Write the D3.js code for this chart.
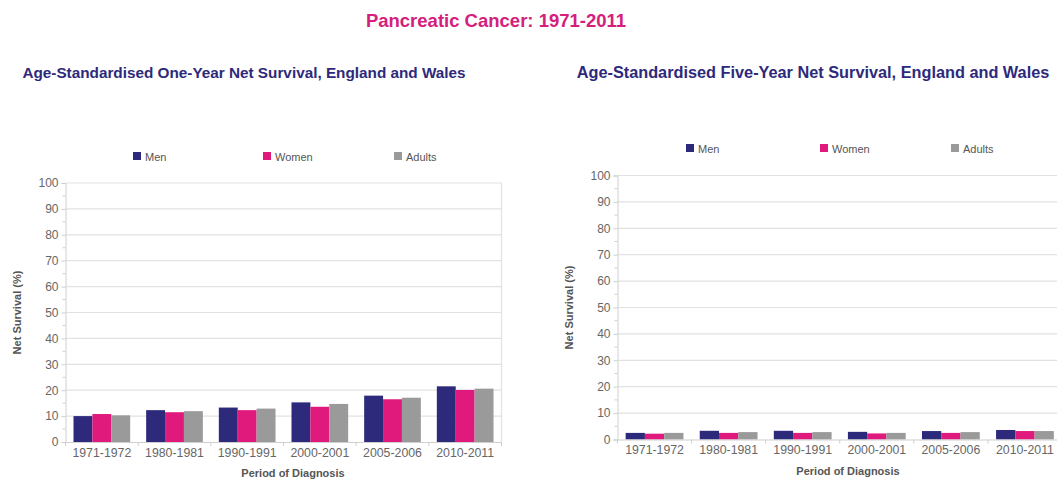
<!DOCTYPE html>
<html>
<head>
<meta charset="utf-8">
<script src="https://cdn.jsdelivr.net/npm/d3@7"></script>
<style>
  html, body { margin: 0; padding: 0; background: #ffffff; }
  svg { display: block; font-family: "Liberation Sans", Arial, sans-serif; }
</style>
</head>
<body>
<svg id="chart" width="1057" height="481"></svg>
<script>
// Periods of diagnosis
const periods = ["1971-1972", "1980-1981", "1990-1991", "2000-2001", "2005-2006", "2010-2011"];
const seriesNames = ["Men", "Women", "Adults"];
const seriesColors = ["#2d2a7c", "#e0197d", "#9a9a9a"];

// One-year net survival (%)
const oneYearMen    = [10.0, 12.3, 13.3, 15.3, 17.9, 21.5];
const oneYearWomen  = [10.8, 11.5, 12.3, 13.6, 16.5, 20.1];
const oneYearAdults = [10.3, 11.9, 12.9, 14.7, 17.1, 20.6];

// Five-year net survival (%)
const fiveYearMen    = [2.5, 3.3, 3.3, 2.9, 3.2, 3.6];
const fiveYearWomen  = [2.2, 2.5, 2.5, 2.3, 2.5, 3.2];
const fiveYearAdults = [2.5, 2.8, 2.8, 2.5, 2.8, 3.2];

const yTicks = [0, 10, 20, 30, 40, 50, 60, 70, 80, 90, 100];

const svg = d3.select("#chart");

svg.append("text")
  .attr("x", 496).attr("y", 27)
  .attr("text-anchor", "middle")
  .attr("font-size", 18.5).attr("font-weight", "bold")
  .attr("fill", "#d4207c")
  .text("Pancreatic Cancer: 1971-2011");

function drawPanel(opts) {
  const { title, titleX, titleY, titleSize, x0, x1, yTop, yBottom, legendY, legendX, series, yLabelX, xLabelX } = opts;
  const g = svg.append("g");

  g.append("text")
    .attr("x", titleX).attr("y", titleY)
    .attr("text-anchor", "middle")
    .attr("font-size", titleSize).attr("font-weight", "bold")
    .attr("fill", "#2d2a7c")
    .text(title);

  // legend
  seriesNames.forEach((name, i) => {
    const lx = legendX[i];
    g.append("rect").attr("x", lx).attr("y", legendY - 4.5).attr("width", 8).attr("height", 8)
      .attr("fill", seriesColors[i]);
    g.append("text").attr("x", lx + 12).attr("y", legendY + 4)
      .attr("font-size", 11).attr("fill", "#555").text(name);
  });

  const x = d3.scaleBand().domain(periods).range([x0, x1]).paddingInner(0.22).paddingOuter(0.11);
  const xs = d3.scaleBand().domain(seriesNames).range([0, x.bandwidth()]);
  const y = d3.scaleLinear().domain([0, 100]).range([yBottom, yTop]);

  // gridlines
  g.append("g").selectAll("line").data(yTicks.slice(1)).join("line")
    .attr("x1", x0).attr("x2", x1)
    .attr("y1", d => y(d)).attr("y2", d => y(d))
    .attr("stroke", "#e2e2e2").attr("stroke-width", 1.2);
  // right border
  g.append("line").attr("x1", x1).attr("x2", x1).attr("y1", yTop).attr("y2", yBottom)
    .attr("stroke", "#e2e2e2").attr("stroke-width", 1.2);

  // minor ticks on y axis
  g.append("g").selectAll("line").data(d3.range(5, 100, 10)).join("line")
    .attr("x1", x0 - 3).attr("x2", x0)
    .attr("y1", d => y(d)).attr("y2", d => y(d))
    .attr("stroke", "#cfcfcf");

  // y axis
  const yAxis = g.append("g").attr("transform", `translate(${x0},0)`)
    .call(d3.axisLeft(y).tickValues(yTicks).tickSize(4).tickPadding(3));
  yAxis.select(".domain").attr("stroke", "#cfcfcf");
  yAxis.selectAll(".tick line").attr("stroke", "#cfcfcf");
  yAxis.selectAll("text").attr("font-size", 12).attr("fill", "#666")
    .attr("font-family", "Liberation Sans, Arial, sans-serif");

  // bars
  const data = periods.map((p, i) => ({ p, vals: series.map(s => s[i]) }));
  g.append("g").selectAll("g").data(data).join("g")
    .attr("transform", d => `translate(${x(d.p)},0)`)
    .selectAll("rect").data(d => d.vals.map((v, k) => ({ v, k }))).join("rect")
    .attr("x", d => xs(seriesNames[d.k]))
    .attr("width", xs.bandwidth())
    .attr("y", d => y(d.v))
    .attr("height", d => y(0) - y(d.v))
    .attr("fill", d => seriesColors[d.k]);

  // x axis
  const xAxis = g.append("g").attr("transform", `translate(0,${yBottom})`)
    .call(d3.axisBottom(x).tickSize(0).tickPadding(6));
  xAxis.select(".domain").attr("stroke", "#cfcfcf");
  xAxis.selectAll("text").attr("font-size", 12.3).attr("fill", "#666")
    .attr("font-family", "Liberation Sans, Arial, sans-serif");
  // category boundary ticks
  const bounds = d3.range(periods.length + 1).map(i => x0 + i * x.step());
  g.append("g").selectAll("line").data(bounds).join("line")
    .attr("x1", d => d).attr("x2", d => d)
    .attr("y1", yBottom).attr("y2", yBottom + 4)
    .attr("stroke", "#cfcfcf");

  g.append("text")
    .attr("transform", `translate(${yLabelX},${(yTop + yBottom) / 2}) rotate(-90)`)
    .attr("text-anchor", "middle").attr("font-size", 11).attr("font-weight", "bold")
    .attr("fill", "#555").text("Net Survival (%)");

  g.append("text")
    .attr("x", xLabelX).attr("y", yBottom + 35)
    .attr("text-anchor", "middle").attr("font-size", 11).attr("font-weight", "bold")
    .attr("fill", "#555").text("Period of Diagnosis");
}

drawPanel({
  title: "Age-Standardised One-Year Net Survival, England and Wales",
  titleX: 244, titleY: 78, titleSize: 15.3,
  x0: 65.5, x1: 501.5, yTop: 183, yBottom: 442,
  legendY: 156.5, legendX: [133, 263, 394],
  series: [oneYearMen, oneYearWomen, oneYearAdults],
  yLabelX: 21, xLabelX: 293
});

drawPanel({
  title: "Age-Standardised Five-Year Net Survival, England and Wales",
  titleX: 813, titleY: 78, titleSize: 16.3,
  x0: 617.5, x1: 1062, yTop: 175.5, yBottom: 439.5,
  legendY: 148.5, legendX: [686, 820, 951],
  series: [fiveYearMen, fiveYearWomen, fiveYearAdults],
  yLabelX: 573, xLabelX: 848
});
</script>
</body>
</html>
